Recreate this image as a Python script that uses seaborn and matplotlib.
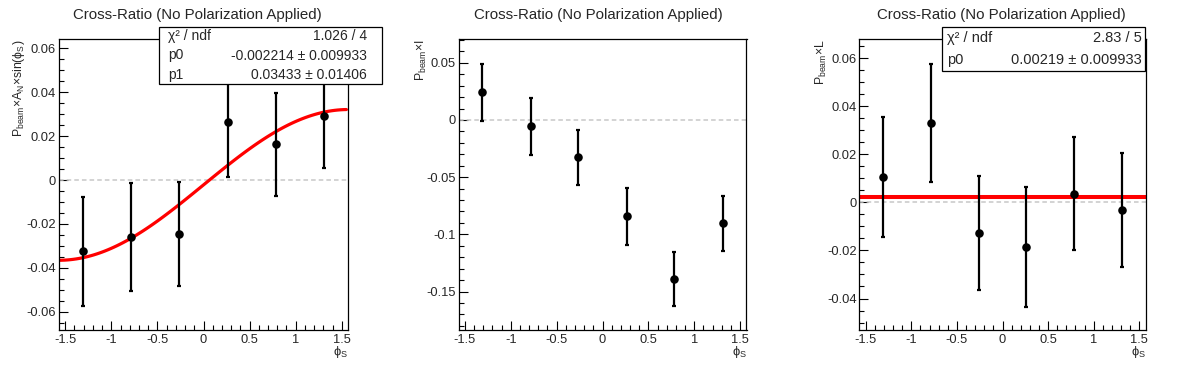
import numpy as np
import pandas as pd
import matplotlib
matplotlib.use("Agg")
import matplotlib.pyplot as plt
from matplotlib.patches import Rectangle
from matplotlib.ticker import MultipleLocator, FuncFormatter
import seaborn as sns

# bin centres (6 bins between -pi/2 and pi/2)
phi_s = [-1.309, -0.785, -0.262, 0.262, 0.785, 1.309]

# panel 1: P_beam x A_N x sin(phi_S)
an_val = [-0.0325, -0.0260, -0.0247, 0.0263, 0.0163, 0.0292]
an_err = [0.0249, 0.0246, 0.0237, 0.0249, 0.0235, 0.0236]
an_p0, an_p1 = -0.002214, 0.03433

# panel 2: P_beam x I
i_val = [0.0242, -0.0055, -0.0326, -0.0842, -0.1393, -0.0903]
i_err = [0.0250, 0.0249, 0.0240, 0.0249, 0.0236, 0.0239]

# panel 3: P_beam x L
l_val = [0.0106, 0.0330, -0.0127, -0.0187, 0.0036, -0.0032]
l_err = [0.0250, 0.0246, 0.0237, 0.0250, 0.0236, 0.0239]
l_p0 = 0.00219

title = "Cross-Ratio (No Polarization Applied)"

sns.set_style("ticks")
plt.rcParams['font.family'] = ['Liberation Sans', 'DejaVu Sans']
plt.rcParams['mathtext.fontset'] = 'custom'
plt.rcParams['mathtext.rm'] = 'Liberation Sans'
plt.rcParams['mathtext.it'] = 'Liberation Sans:italic'
plt.rcParams['axes.unicode_minus'] = False

W, H = 1196, 372
fig = plt.figure(figsize=(W / 100, H / 100), dpi=100)


def fx(px):
    return px / W


def fy(py):
    return 1 - py / H


def make_axes(left, right, top=39.3, bottom=330):
    return fig.add_axes([fx(left), fy(bottom), (right - left) / W, (bottom - top) / H])


def style_axes(ax, ylim, major, minor):
    ax.set_xlim(-np.pi / 2, np.pi / 2)
    ax.set_ylim(*ylim)
    ax.xaxis.set_major_locator(MultipleLocator(0.5))
    ax.xaxis.set_minor_locator(MultipleLocator(0.1))
    ax.yaxis.set_major_locator(MultipleLocator(major))
    ax.yaxis.set_minor_locator(MultipleLocator(minor))
    fmt = FuncFormatter(lambda v, p: "0" if abs(v) < 1e-9 else "%g" % round(v, 4))
    ax.xaxis.set_major_formatter(fmt)
    ax.yaxis.set_major_formatter(fmt)
    ax.tick_params(which='both', direction='in', top=False, right=False,
                   labelsize=9.3, width=0.8, color='black')
    ax.tick_params(which='major', length=6.5)
    ax.tick_params(which='minor', length=3.5)
    ax.tick_params(axis='y', pad=2)
    ax.tick_params(axis='x', pad=3)
    for s in ax.spines.values():
        s.set_linewidth(0.9)
        s.set_color('black')
    ax.axhline(0, color='#c8c8c8', lw=1.1, ls=(0, (3, 2)), zorder=1)
    ax.set_xlabel("")
    ax.set_ylabel("")


def draw_points(ax, vals, errs):
    df = pd.DataFrame({'phi': phi_s, 'val': vals, 'err': errs})
    ax.errorbar(df['phi'], df['val'], yerr=df['err'], fmt='none', ecolor='black',
                elinewidth=1.6, capsize=1.6, capthick=1.6, zorder=3)
    sns.scatterplot(data=df, x='phi', y='val', ax=ax, color='black', s=38,
                    edgecolor='black', linewidth=0, zorder=4)


def stats_box(left, right, top, bottom, rows, tx0, tx1, size):
    fig.add_artist(Rectangle((fx(left), fy(bottom)), (right - left) / W, (bottom - top) / H,
                             transform=fig.transFigure, facecolor='white',
                             edgecolor='black', lw=0.9, zorder=10))
    h = (bottom - top) / len(rows)
    for k, (name, value) in enumerate(rows):
        yy = fy(top + h * (k + 0.5))
        fig.text(fx(tx0), yy, name, ha='left', va='center', fontsize=size, zorder=11)
        fig.text(fx(tx1), yy, value, ha='right', va='center', fontsize=size, zorder=11)


# ---- panel 1
ax1 = make_axes(58.7, 348.3)
draw_points(ax1, an_val, an_err)
fit_x = np.linspace(-np.pi / 2, 1.55, 100)
fit_df = pd.DataFrame({'x': fit_x, 'y': an_p0 + an_p1 * np.sin(fit_x)})
sns.lineplot(data=fit_df, x='x', y='y', ax=ax1, color='#ff0000', lw=2.3, zorder=2)
style_axes(ax1, (-0.0683, 0.0641), 0.02, 0.005)

# ---- panel 2
ax2 = make_axes(458.5, 746.5)
draw_points(ax2, i_val, i_err)
style_axes(ax2, (-0.1836, 0.0705), 0.05, 0.01)

# ---- panel 3
ax3 = make_axes(859.3, 1145.7)
draw_points(ax3, l_val, l_err)
ax3.axhline(l_p0, color='#ff0000', lw=2.9, zorder=2)
style_axes(ax3, (-0.0531, 0.0678), 0.02, 0.005)

# titles, axis titles
for cx in [197, 598, 1001]:
    fig.text(fx(cx), fy(15), title, ha='center', va='center', fontsize=10.8)

ylabels = [r"$\mathregular{P_{beam}{\times}A_{N}{\times}sin(\phi_{S})}$",
           r"$\mathregular{P_{beam}{\times}I}$",
           r"$\mathregular{P_{beam}{\times}L}$"]
for ax, lab, lx in zip([ax1, ax2, ax3], ylabels, [19, 421, 821]):
    fig.text(fx(lx), fy(39.5), lab, rotation=90, ha='center', va='top', fontsize=8.8)
    pos = ax.get_position()
    fig.text(pos.x1, fy(344), r"$\mathregular{\phi_{S}}$", ha='right', va='top', fontsize=9.3)

# fit statistics boxes
stats_box(159.3, 381.7, 26.7, 84.3,
          [("χ² / ndf", "1.026 / 4"),
           ("p0", "-0.002214 ± 0.009933"),
           ("p1", "0.03433 ± 0.01406")], 168, 366.7, 10)
stats_box(941.7, 1145, 26.7, 70.7,
          [("χ² / ndf", "2.83 / 5"),
           ("p0", "0.00219 ± 0.009933")], 946.7, 1141.7, 10.5)

fig.savefig("out.png", dpi=100, facecolor='white')
